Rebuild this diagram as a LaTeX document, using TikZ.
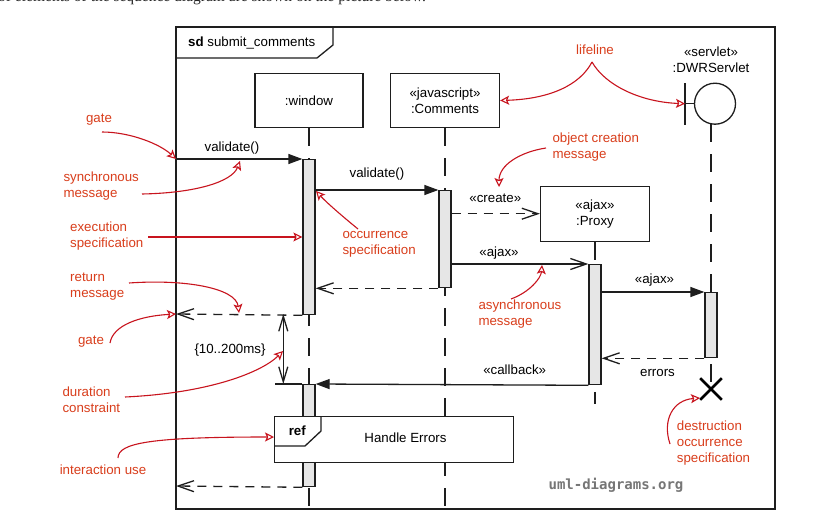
\documentclass[tikz,border=0pt]{standalone}
\usepackage{fontspec}
\setmainfont{Liberation Sans}
\newfontfamily\introfont{Liberation Serif}
\newfontfamily\wmfont{DejaVu Sans Mono}
\usetikzlibrary{arrows.meta,shapes.misc}
\definecolor{notered}{RGB}{200,20,30}
\definecolor{notetext}{RGB}{217,62,28}
\definecolor{barfill}{RGB}{230,230,230}
\definecolor{wmgray}{RGB}{118,118,118}
\definecolor{umlline}{RGB}{30,30,30}

\begin{document}
\begin{tikzpicture}[x=1pt,y=-1pt,
  every node/.style={font=\fontsize{13.3}{16}\selectfont, inner sep=0pt},
  objbox/.style={draw=umlline, line width=1.3pt, fill=white, minimum width=108pt, minimum height=54pt, align=center},
  actbar/.style={draw=umlline, line width=1.3pt, fill=barfill, minimum width=12pt, anchor=north},
  lifeln/.style={draw=umlline, line width=1.3pt, dash pattern=on 18pt off 12pt},
  syncmsg/.style={draw=umlline, line width=1.3pt, -{Triangle[length=14pt,width=10pt]}},
  asyncmsg/.style={draw=umlline, line width=1.3pt, -{Straight Barb[length=16pt,width=11pt]}},
  retmsg/.style={asyncmsg, dash pattern=on 9pt off 7pt},
  note/.style={text=notetext, align=left, anchor=west},
  noteline/.style={draw=notered, line width=1.1pt, -{Stealth[open,length=9pt,width=9pt,inset=2pt]}}]
\useasboundingbox (0,0) rectangle (819,530);
\fill[white] (0,0) rectangle (819,530);
\node[anchor=base west, font=\introfont\fontsize{15.5}{17}\selectfont, text=black!85] (intro) at (-2,1.5) {of elements of the sequence diagram are shown on the picture below.};

\draw[umlline, line width=1.5pt] (176,27) rectangle (775,509);
\draw[umlline, line width=1.3pt] (176,58) -- (317,58) -- (333,45) -- (333,27);
\node[anchor=west] (sdlbl) at (188,42.7) {\textbf{sd} submit\_comments};

\node[objbox] (win) at (309,100.5) {:window};
\node[objbox, minimum width=109pt] (com) at (445,100.5) {«javascript»\\:Comments};
\node[objbox, minimum width=109pt, minimum height=55pt] (prx) at (595,213.7) {«ajax»\\:Proxy};
\node[align=center] (srvlbl) at (711,60) {«servlet»\\:DWRServlet};
\node[circle, draw=umlline, line width=1.3pt, minimum size=41pt] (srv) at (715,103.7) {};
\coordinate (srvtop) at (685,83);
\coordinate (srvbot) at (685,125);
\coordinate (srvmid) at (685,103.7);
\draw[umlline, line width=1.3pt] (srvtop) -- (srvbot);
\draw[umlline, line width=1.3pt] (srvmid) -- (srv.west);

\coordinate (winend) at (309,509);
\coordinate (comend) at (445,509);
\coordinate (prxend) at (595,404);
\coordinate (srvstart) at (711,124);
\coordinate (dxpos) at (711,389);
\draw[lifeln] (win.south) -- (winend);
\draw[lifeln] (com.south) -- (comend);
\draw[lifeln] (prx.south) -- (prxend);
\draw[lifeln] (srvstart) -- (dxpos);
\node[cross out, draw=black, line width=2.6pt, minimum size=19pt] (dx) at (dxpos) {};

\node[actbar, minimum height=155pt] (wb1) at (309,159) {};
\node[actbar, minimum height=102pt] (wb2) at (309,384) {};
\node[actbar, minimum height=97pt] (cb) at (445,190) {};
\node[actbar, minimum height=120pt] (pb) at (595,264) {};
\node[actbar, minimum height=65pt] (sb) at (711,292) {};

\node[draw=umlline, line width=1.3pt, fill=white, minimum width=239pt, minimum height=46pt, anchor=north west] (refbox) at (274,416) {};
\draw[umlline, line width=1.3pt] (274,446) -- (305,446) -- (321,431) -- (321,416);
\node (reflbl) at (297.3,430.7) {\textbf{ref}};
\node (refname) at (405.5,437.7) {Handle Errors};

\coordinate (gate1) at (176,159);
\coordinate (gate2) at (176,314);
\coordinate (gate3) at (176,486);
\draw[syncmsg] (gate1) -- (wb1.north west);
\draw[syncmsg] (wb1.east |- cb.north) -- (cb.north west);
\draw[retmsg] (cb.east |- prx.west) -- (prx.west);
\draw[asyncmsg] (cb.east |- pb.north) -- (pb.north west);
\draw[syncmsg] (pb.east |- sb.north) -- (sb.north west);
\draw[retmsg] (cb.south west) -- (wb1.east |- cb.south);
\draw[retmsg] (wb1.south west) -- (gate2);
\draw[retmsg] (sb.south west) -- (pb.east |- sb.south);
\draw[syncmsg] (pb.south west) -- (wb2.north east);
\draw[retmsg] (wb2.south west) -- (gate3);

\coordinate (durtop) at (283.3,314);
\coordinate (durbot) at (283.3,384);
\coordinate (durtick) at (275,384);
\draw[umlline, line width=1.3pt] (durtick) -- (wb2.north west);
\draw[umlline, line width=1.3pt, {Straight Barb[length=15pt,width=9pt]}-{Straight Barb[length=15pt,width=9pt]}] (durtop) -- (durbot);

\node (lbl1) at (232,147.7) {validate()};
\node (lbl2) at (377,174.3) {validate()};
\node (lbl3) at (495.3,198.3) {«create»};
\node (lbl4) at (499,252.7) {«ajax»};
\node (lbl5) at (654.5,280) {«ajax»};
\node (lbl6) at (514.7,369.3) {«callback»};
\node (lbl7) at (657.5,372.7) {errors};
\node (lbl8) at (230,350) {\{10..200ms\}};

\node[font=\wmfont\bfseries\fontsize{14}{16}\selectfont, text=wmgray] (wm) at (616,485.3) {uml-diagrams.org};

\node[note, anchor=center] (n1) at (99,120) {gate};
\node[note] (n2) at (63.3,185.8) {synchronous\\message};
\node[note] (n3) at (70,236.5) {execution\\specification};
\node[note] (n4) at (342.3,244.2) {occurrence\\specification};
\node[note] (n5) at (70,286.8) {return\\message};
\node[note, anchor=center] (n6) at (91,341.7) {gate};
\node[note] (n7) at (62.3,399.3) {duration\\constraint};
\node[note, anchor=center] (n8) at (103,470) {interaction use};
\node[note, anchor=center] (n9) at (595,49.3) {lifeline};
\node[note] (n10) at (552.3,146.8) {object creation\\message};
\node[note] (n11) at (478.3,314.5) {asynchronous\\message};
\node[note] (n12) at (676.7,442.6) {destruction\\occurrence\\specification};

\coordinate (a1) at (102,132);
\coordinate (a2) at (142,194);
\coordinate (a2e) at (240,161);
\coordinate (a3) at (148,237);
\coordinate (a4) at (358,229);
\coordinate (a4e) at (316,191);
\coordinate (a5) at (129,283);
\coordinate (a5e) at (239,313);
\coordinate (a6) at (110,343);
\coordinate (a7) at (125,397);
\coordinate (a7e) at (283,351);
\coordinate (a8) at (118,458);
\coordinate (a9) at (592,62);
\coordinate (a11) at (546,148);
\coordinate (a11e) at (499,187);
\coordinate (a12) at (511,299);
\coordinate (a12e) at (542,265);
\coordinate (a13) at (670,444);
\coordinate (a13e) at (700,398);
\draw[noteline] (a1) .. controls (130,132) and (160,144) .. (gate1);
\draw[noteline] (a2) .. controls (195,193) and (232,182) .. (a2e);
\draw[noteline] (a3) -- (wb1.west |- a3);
\draw[noteline] (a4) .. controls (342,216) and (326,202) .. (a4e);
\draw[noteline] (a5) .. controls (185,279) and (236,288) .. (a5e);
\draw[noteline] (a6) .. controls (113,325) and (140,316) .. (gate2);
\draw[noteline] (a7) .. controls (210,393) and (262,372) .. (a7e);
\draw[noteline] (a8) .. controls (118,443) and (150,437) .. (refbox.west |- 0,437);
\draw[noteline] (a9) .. controls (580,85) and (550,99) .. (com.east);
\draw[noteline] (a9) .. controls (605,85) and (640,102) .. (srvmid);
\draw[noteline] (a11) .. controls (520,152) and (499,165) .. (a11e);
\draw[noteline] (a12) .. controls (530,292) and (541,278) .. (a12e);
\draw[noteline] (a13) .. controls (662,420) and (673,400) .. (a13e);
\end{tikzpicture}
\end{document}
